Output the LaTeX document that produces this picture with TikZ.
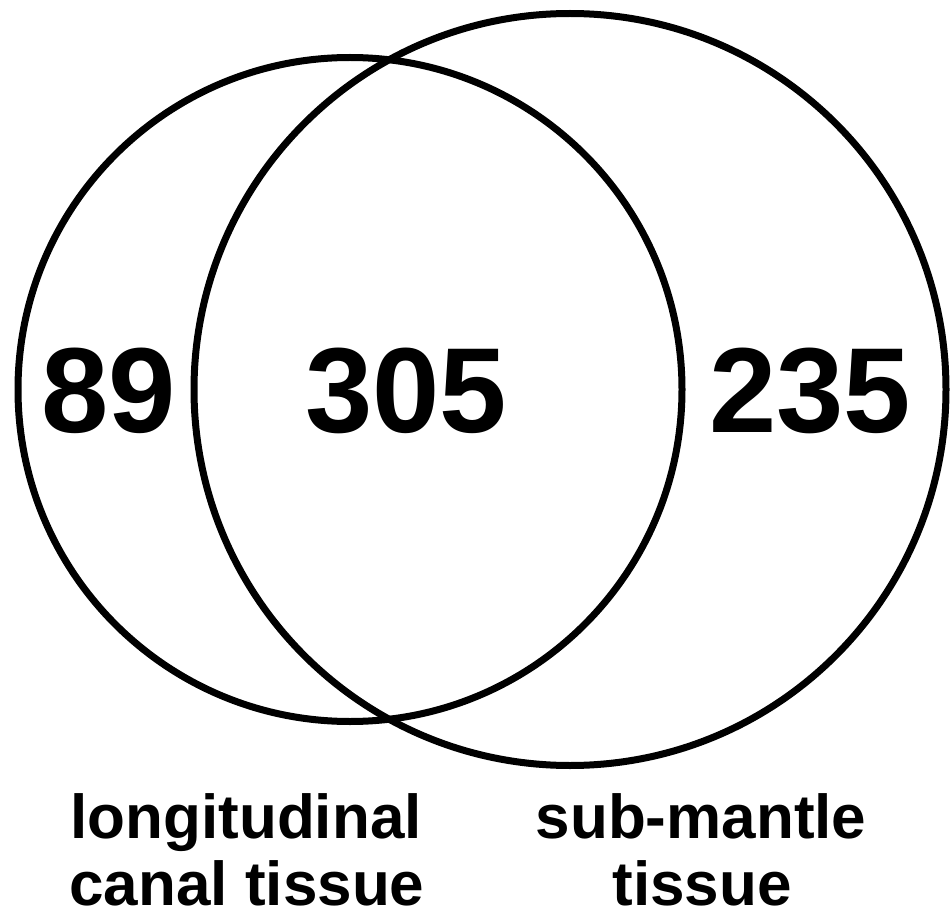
\documentclass[tikz,border=0pt]{standalone}
\usepackage{fontspec}
\setmainfont{Liberation Sans}
\begin{document}
\begin{tikzpicture}[x=1pt,y=-1pt,
  ring/.style={draw=black,line width=7pt},
  num/.style={font=\fontsize{121}{130}\selectfont\bfseries,inner sep=0pt,anchor=base},
  lab/.style={font=\fontsize{62}{67}\selectfont\bfseries,inner sep=0pt,anchor=base}]
\useasboundingbox (0,0) rectangle (951,920);
\node[ring,circle,minimum size=664pt,inner sep=0pt] (A) at (350,389.5) {};
\node[ring,circle,minimum size=752pt,inner sep=0pt] (B) at (570,389.5) {};
\node[num] (n1) at (109,432) {89};
\node[num] (n2) at (406,432) {305};
\node[num] (n3) at (810,432) {235};
\node[lab] (l1) at (246,838) {longitudinal};
\node[lab] (l2) at (247,905) {canal tissue};
\node[lab] (r1) at (701,838) {sub-mantle};
\node[lab] (r2) at (702,905) {tissue};
\end{tikzpicture}
\end{document}
